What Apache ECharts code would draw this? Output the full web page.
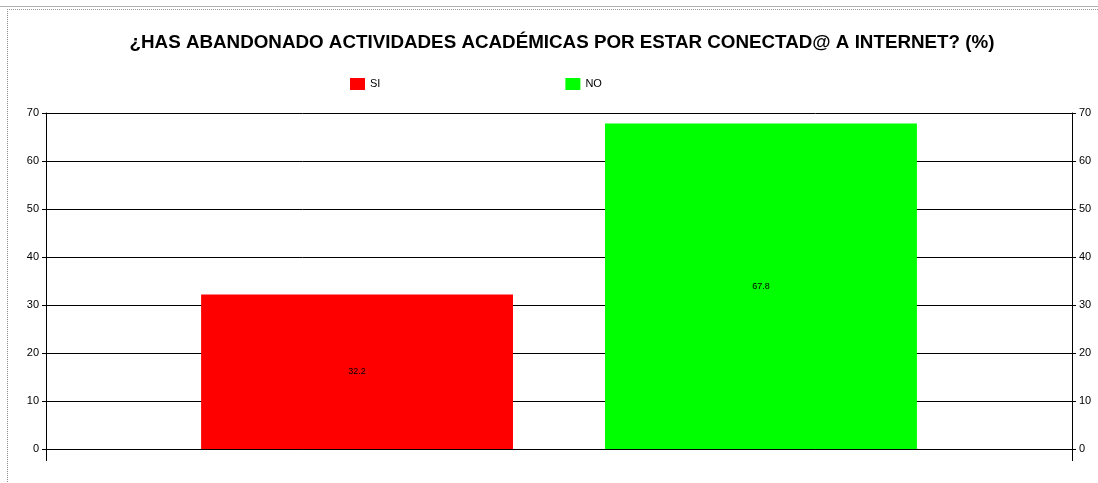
<!DOCTYPE html>
<html>
<head>
<meta charset="utf-8">
<script src="https://cdn.jsdelivr.net/npm/echarts@6/dist/echarts.min.js"></script>
<style>
html,body{margin:0;padding:0;background:#fff;}
#c{width:1098px;height:483px;}
</style>
</head>
<body>
<div id="c"></div>
<script>
var titleText = '¿HAS ABANDONADO ACTIVIDADES ACADÉMICAS POR ESTAR CONECTAD@ A INTERNET? (%)';
var categories = [''];
var seriesNames = ['SI', 'NO'];
var siValues = [32.2];
var noValues = [67.8];
var yTicks = [0, 10, 20, 30, 40, 50, 60, 70];

var chart = echarts.init(document.getElementById('c'), null, {renderer: 'canvas'});
var font = 'Liberation Sans, Arial, sans-serif';
var yAxisCommon = {
  type: 'value', min: yTicks[0], max: yTicks[yTicks.length - 1], interval: 10,
  axisLine: {show: true, lineStyle: {color: '#000', width: 1}},
  axisTick: {show: true, length: 4, lineStyle: {color: '#000'}},
  axisLabel: {color: '#000', fontSize: 11, fontFamily: font, margin: 7},
  splitLine: {show: false}
};
var option = {
  animation: false,
  backgroundColor: '#fff',
  title: {
    text: titleText, left: 557, top: 28, textAlign: 'center',
    textStyle: {fontFamily: font, fontSize: 18.8, fontWeight: 'bold', color: '#000'}
  },
  legend: {
    data: seriesNames, left: 345, top: 73, itemWidth: 15, itemHeight: 12, itemGap: 185,
    icon: 'rect',
    textStyle: {fontFamily: font, fontSize: 11, color: '#000'}
  },
  grid: {left: 46, right: 26, top: 113, bottom: 34, containLabel: false},
  xAxis: {
    type: 'category', data: categories,
    axisLine: {show: true, lineStyle: {color: '#000'}},
    axisTick: {show: false}, axisLabel: {show: false}
  },
  yAxis: [
    Object.assign({}, yAxisCommon, {position: 'left', splitLine: {show: true, lineStyle: {color: '#000', width: 1}}}),
    Object.assign({}, yAxisCommon, {position: 'right'})
  ],
  series: [
    {name: seriesNames[0], type: 'bar', data: siValues, barWidth: '30.4%', barGap: '29.5%',
     itemStyle: {color: '#ff0000'},
     label: {show: true, position: 'inside', color: '#000', fontSize: 9, fontFamily: font}},
    {name: seriesNames[1], type: 'bar', data: noValues, barWidth: '30.4%', barGap: '29.5%',
     itemStyle: {color: '#00ff00'},
     label: {show: true, position: 'inside', color: '#000', fontSize: 9, fontFamily: font}}
  ]
};
chart.setOption(option);
var p0 = chart.convertToPixel({yAxisIndex: 0}, 0);
chart.setOption({
  graphic: [
    {type: 'line', shape: {x1: 0, y1: 6.5, x2: 1098, y2: 6.5}, style: {stroke: '#b0b0b0', lineWidth: 1}, silent: true},
    {type: 'line', shape: {x1: 7.5, y1: 9, x2: 7.5, y2: 483}, style: {stroke: '#888', lineWidth: 1, lineDash: [1, 1]}, silent: true},
    {type: 'line', shape: {x1: 7, y1: 9.5, x2: 1098, y2: 9.5}, style: {stroke: '#999', lineWidth: 1, lineDash: [1, 1]}, silent: true},
    {type: 'line', shape: {x1: 46.5, y1: p0, x2: 46.5, y2: p0 + 12}, style: {stroke: '#000', lineWidth: 1}, silent: true},
    {type: 'line', shape: {x1: 1072.5, y1: p0, x2: 1072.5, y2: p0 + 12}, style: {stroke: '#000', lineWidth: 1}, silent: true}
  ]
});
</script>
</body>
</html>
